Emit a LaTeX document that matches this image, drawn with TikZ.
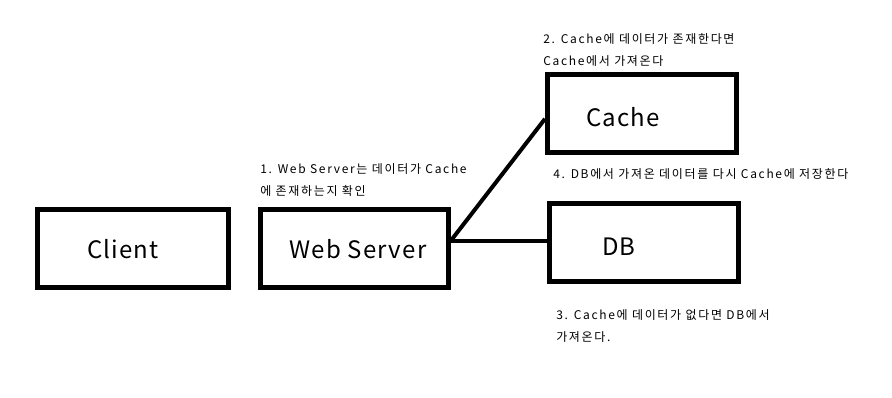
\documentclass[tikz,border=0pt]{standalone}
\usepackage{fontspec}
\setmainfont{Noto Sans CJK KR}
\usetikzlibrary{positioning}

\begin{document}
\begin{tikzpicture}[x=0.75pt,y=-0.75pt,box/.style={draw=black,line width=3.75pt,
 minimum width=141.75pt,minimum height=59pt,inner sep=0pt},
 boxname/.style={font=\fontsize{18}{22}\selectfont\addfontfeature{LetterSpace=5},anchor=base,inner sep=0pt},
 note/.style={font=\fontsize{9}{16.5}\selectfont\addfontfeature{LetterSpace=14},anchor=base west,align=left,inner sep=0pt},
 link/.style={draw=black,line width=3pt}]
\useasboundingbox (0,0) rectangle (892,397);
\node[box,minimum width=143.25pt,minimum height=58.5pt] (client) at (133,248.5) {};
\node[box,minimum width=141pt,minimum height=58.5pt] (web) at (354.5,248.5) {};
\node[box] (cache) at (642,113.5) {};
\node[box] (db) at (644,242.5) {};
\node[boxname] (clientname) at (123,258) {Client};
\node[boxname] (webname) at (358,258) {Web Server};
\node[boxname] (cachename) at (623,126.5) {Cache};
\node[boxname] (dbname) at (619,255) {DB};
% base anchor sits on the last line
\node[note] (checknote) at (260,195) {1. Web Server는 데이터가 Cache\\에 존재하는지 확인};
\node[note] (hitnote) at (543,65) {2. Cache에 데이터가 존재한다면\\Cache에서 가져온다};
\node[note] (missnote) at (556,341.5) {3. Cache에 데이터가 없다면 DB에서\\가져온다.};
\node[note] (savenote) at (553,178) {4. DB에서 가져온 데이터를 다시 Cache에 저장한다};
\coordinate (hub) at ([yshift=6pt]web.east);
\draw[link] (hub) -- (db.west |- hub);
\draw[link] (hub) -- ([yshift=-4pt]cache.west);
\end{tikzpicture}
\end{document}
